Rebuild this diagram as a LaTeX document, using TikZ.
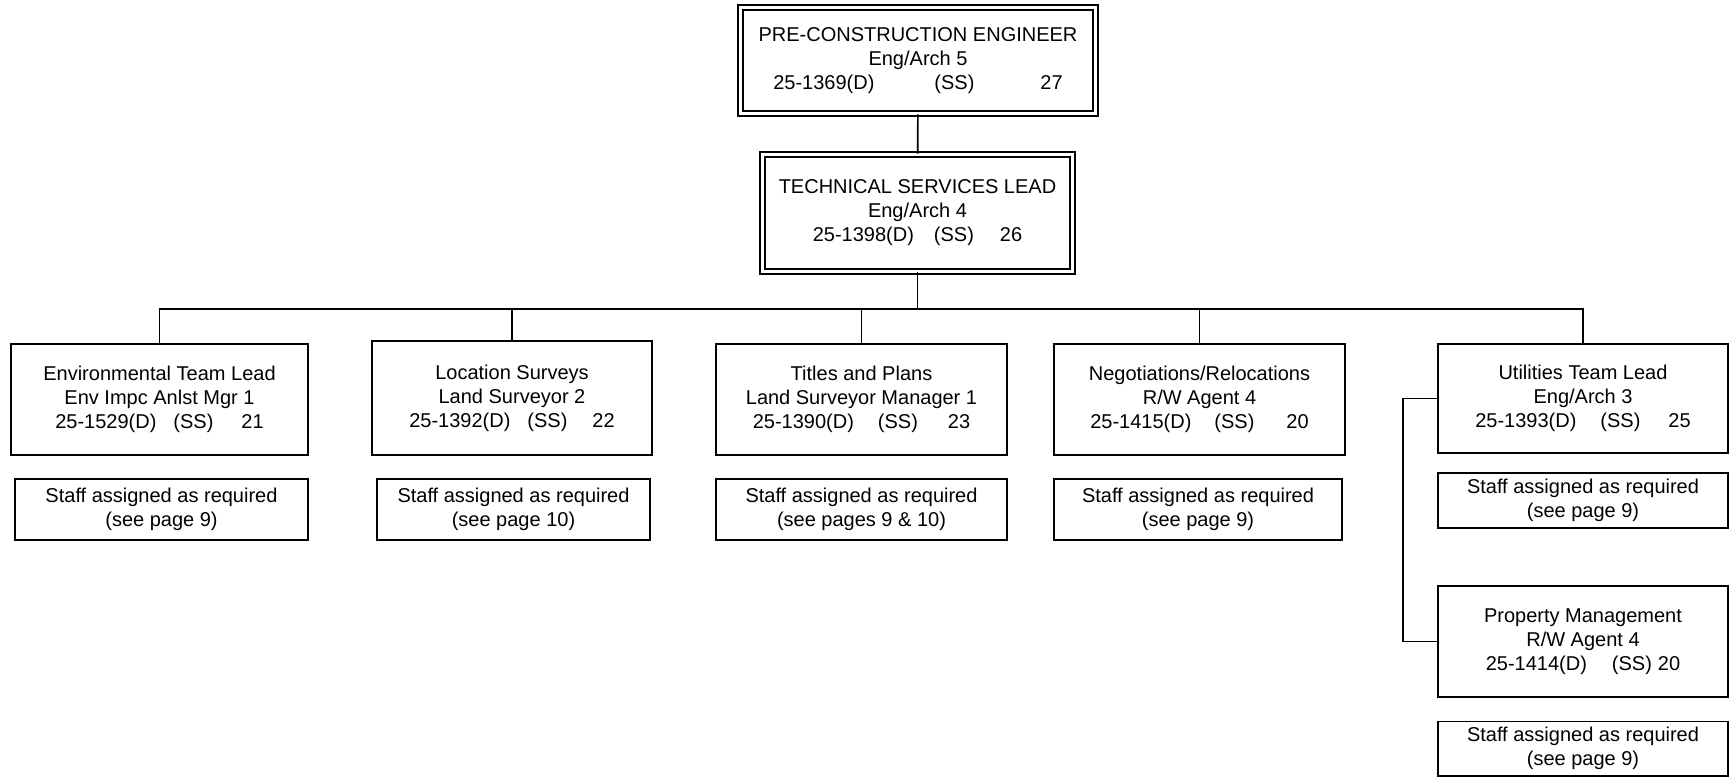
\documentclass[tikz,border=0pt]{standalone}
\usepackage{fontspec}
\setmainfont{Liberation Sans}
\tikzset{
  post/.style={draw, line width=0.8pt, align=center, inner sep=0pt,
    font=\fontsize{10}{12}\selectfont},
  headpost/.style={post, double, double distance=1.9pt},
  staff/.style={post, minimum height=#1},
  link/.style={line width=0.8pt}
}
\begin{document}
\begin{tikzpicture}[x=0.5pt, y=-0.5pt]
  \useasboundingbox (0,0) rectangle (1730,777);
  \node[headpost, minimum width=177.5pt, minimum height=53pt] (pce) at (918,60.5)
    {PRE-CONSTRUCTION ENGINEER\\Eng/Arch 5\\25-1369(D)\hspace{30pt}(SS)\hspace{33pt}27};
  \node[headpost, minimum width=155pt, minimum height=58.5pt] (tsl) at (917.5,213)
    {TECHNICAL SERVICES LEAD\\Eng/Arch 4\\25-1398(D)\hspace{10pt}(SS)\hspace{13pt}26};
  % team leads
  \node[post, minimum width=148.7pt, minimum height=55.7pt] (env) at (159.5,399.5)
    {Environmental Team Lead\\Env Impc Anlst Mgr 1\\25-1529(D)\hspace{8.5pt}(SS)\hspace{14pt}21};
  \node[post, minimum width=140.2pt, minimum height=57.2pt] (loc) at (512,398)
    {Location Surveys\\Land Surveyor 2\\25-1392(D)\hspace{8.5pt}(SS)\hspace{12.5pt}22};
  \node[post, minimum width=145.7pt, minimum height=55.7pt] (tit) at (861.5,399.5)
    {Titles and Plans\\Land Surveyor Manager 1\\25-1390(D)\hspace{12pt}(SS)\hspace{15pt}23};
  \node[post, minimum width=145.7pt, minimum height=55.7pt] (neg) at (1199.5,399.5)
    {Negotiations/Relocations\\R/W Agent 4\\25-1415(D)\hspace{11.5pt}(SS)\hspace{16pt}20};
  \node[post, minimum width=145.2pt, minimum height=54.7pt] (utl) at (1583,398.5)
    {Utilities Team Lead\\Eng/Arch 3\\25-1393(D)\hspace{12pt}(SS)\hspace{14pt}25};
  \node[post, minimum width=145.2pt, minimum height=55.7pt] (prm) at (1583,641.5)
    {Property Management\\R/W Agent 4\\25-1414(D)\hspace{12.5pt}(SS)\hspace{3pt}20};
  % staff notes
  \node[staff=30.7pt, minimum width=146.7pt] (envs) at (161.5,509.5)
    {Staff assigned as required\\(see page 9)};
  \node[staff=30.7pt, minimum width=136.7pt] (locs) at (513.5,509.5)
    {Staff assigned as required\\(see page 10)};
  \node[staff=30.7pt, minimum width=145.7pt] (tits) at (861.5,509.5)
    {Staff assigned as required\\(see pages 9 \& 10)};
  \node[staff=30.7pt, minimum width=144.2pt] (negs) at (1198,509.5)
    {Staff assigned as required\\(see page 9)};
  \node[staff=27.7pt, minimum width=145.2pt] (utls) at (1583,500.5)
    {Staff assigned as required\\(see page 9)};
  \node[staff=27.2pt, minimum width=145.2pt] (prms) at (1583,748.5)
    {Staff assigned as required\\(see page 9)};
  \coordinate (bus) at (917.5,309);
  \coordinate (brk) at (1403,398.5);
  \begin{scope}[link]
    \draw (pce) to (tsl);
    \draw (tsl) to (bus);
    \draw (env.north) |- (bus) -| (utl.north);
    \draw (loc.north) to (loc.north |- bus);
    \draw (tit.north) to (tit.north |- bus);
    \draw (neg.north) to (neg.north |- bus);
    \draw (utl.west) -- (brk) |- (prm.west);
  \end{scope}
\end{tikzpicture}
\end{document}
